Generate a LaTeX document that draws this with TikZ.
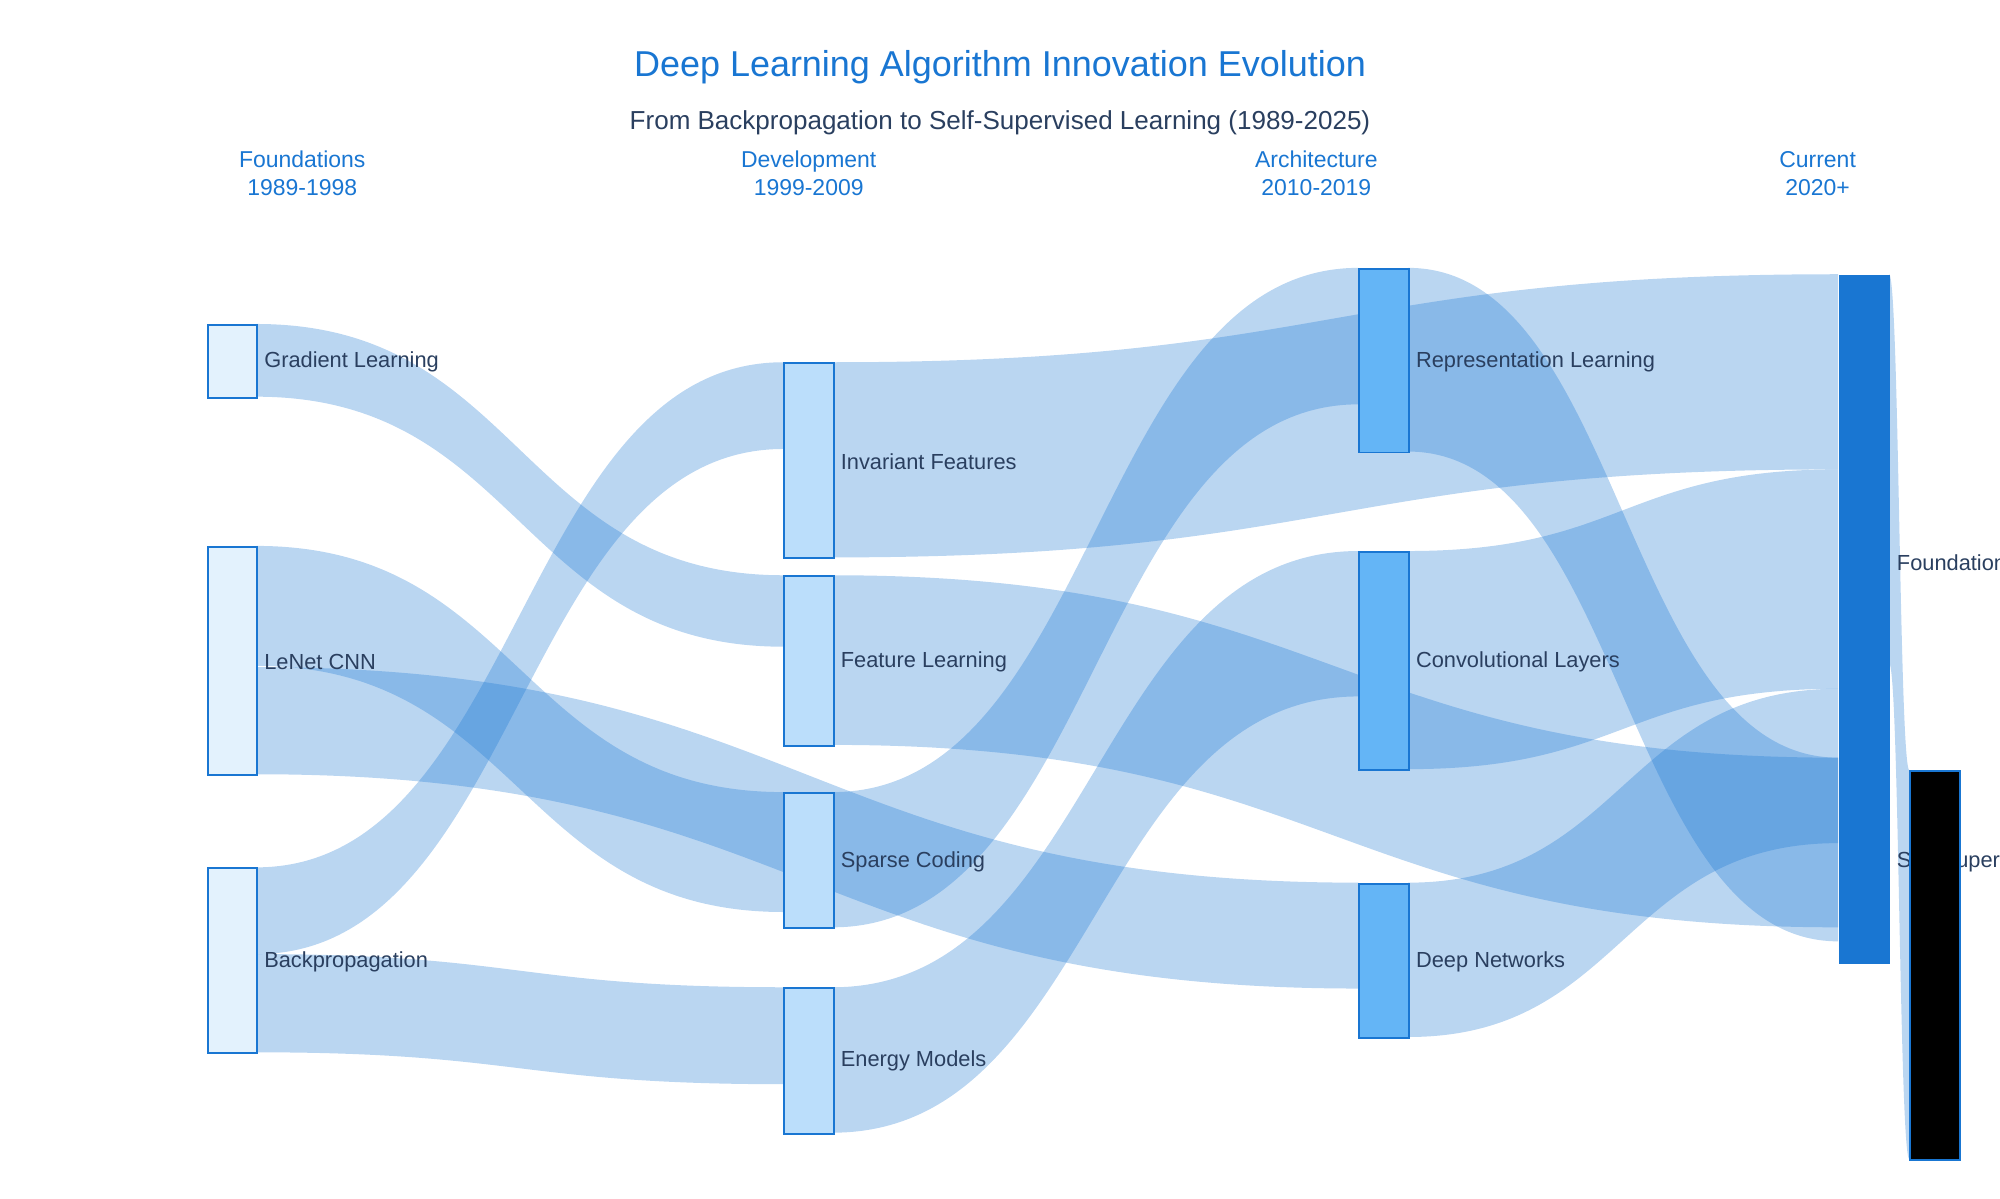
\documentclass[tikz,border=0pt]{standalone}
\usepackage{fontspec}
\setmainfont{Liberation Sans}
\definecolor{cb}{HTML}{1976D2}
\definecolor{c1}{HTML}{E3F2FD}
\definecolor{c2}{HTML}{BBDEFB}
\definecolor{c3}{HTML}{64B5F6}
\definecolor{tx}{HTML}{2A3F5F}
\newcommand\lnk[6]{\pgfmathsetmacro\xm{(#1+#4)/2}%
\fill[linkband] (#1,#2) .. controls (\xm,#2) and (\xm,#5) .. (#4,#5) -- (#4,#6) .. controls (\xm,#6) and (\xm,#3) .. (#1,#3) -- cycle;}
\begin{document}
\begin{tikzpicture}[x=1pt,y=-1pt,
 linkband/.style={fill=cb,fill opacity=0.3},
 nd/.style={draw=cb,line width=1.5pt,inner sep=0pt,anchor=north west},
 lab/.style={anchor=west,text=tx,font=\fontsize{17.1}{20}\selectfont,inner sep=0pt},
 hdr/.style={text=cb,font=\fontsize{18}{22}\selectfont,align=center},
]
\useasboundingbox (0,0) rectangle (1568,940);
% links
\lnk{201}{254}{311}{614}{451}{507}
\lnk{201}{428}{522}{614}{621}{715}
\lnk{201}{523}{607}{1065}{692}{775}
\lnk{201}{680}{748}{614}{284}{352}
\lnk{201}{748}{825}{614}{774}{850}
\lnk{653}{284}{437}{1441}{215}{368}
\lnk{653}{451}{584}{1441}{594}{727}
\lnk{653}{621}{727}{1065}{210}{317}
\lnk{653}{774}{888}{1065}{432}{546}
\lnk{1104}{210}{354}{1441}{594}{738}
\lnk{1104}{432}{603}{1441}{368}{540}
\lnk{1104}{692}{813}{1441}{540}{661}
\lnk{1481}{215}{520}{1497}{604}{909}
% nodes
\node[nd,fill=c1,minimum width=39pt,minimum height=57pt] (gl) at (162,254) {};
\node[nd,fill=c1,minimum width=39pt,minimum height=179pt] (ln) at (162,428) {};
\node[nd,fill=c1,minimum width=39pt,minimum height=145pt] (bp) at (162,680) {};
\node[nd,fill=c2,minimum width=39pt,minimum height=153pt] (inv) at (614,284) {};
\node[nd,fill=c2,minimum width=39pt,minimum height=133pt] (fl) at (614,451) {};
\node[nd,fill=c2,minimum width=39pt,minimum height=106pt] (sc) at (614,621) {};
\node[nd,fill=c2,minimum width=39pt,minimum height=114pt] (em) at (614,774) {};
\node[nd,fill=c3,minimum width=39pt,minimum height=144pt] (rl) at (1065,210) {};
\node[nd,fill=c3,minimum width=39pt,minimum height=171pt] (cl) at (1065,432) {};
\node[nd,fill=c3,minimum width=39pt,minimum height=121pt] (dn) at (1065,692) {};
\node[nd,draw=none,fill=cb,minimum width=40pt,minimum height=540pt] (fm) at (1441,215) {};
% labels
\node[lab] at (207,284) {Gradient Learning};
\node[lab] at (207,519) {LeNet CNN};
\node[lab] at (207,754) {Backpropagation};
\node[lab] at (659,362) {Invariant Features};
\node[lab] at (659,519) {Feature Learning};
\node[lab] at (659,676) {Sparse Coding};
\node[lab] at (659,832) {Energy Models};
\node[lab] at (1110,284) {Representation Learning};
\node[lab] at (1110,519) {Convolutional Layers};
\node[lab] at (1110,754) {Deep Networks};
\node[lab] at (1487,441) {Foundation Models};
\node[lab] at (1487,676) {Self-Supervised Learning};
\node[nd,fill=black,minimum width=39pt,minimum height=305pt] (ss) at (1497,604) {};
% titles
\node[text=cb,font=\fontsize{28.2}{34}\selectfont] (t) at (784,53) {Deep Learning Algorithm Innovation Evolution};
\node[text=tx,font=\fontsize{20.4}{24}\selectfont] (st) at (784,96) {From Backpropagation to Self-Supervised Learning (1989-2025)};
\node[hdr] (h1) at (237,136) {Foundations\\1989-1998};
\node[hdr] (h2) at (634,136) {Development\\1999-2009};
\node[hdr] (h3) at (1032,136) {Architecture\\2010-2019};
\node[hdr] (h4) at (1425,136) {Current\\2020+};
\end{tikzpicture}
\end{document}
